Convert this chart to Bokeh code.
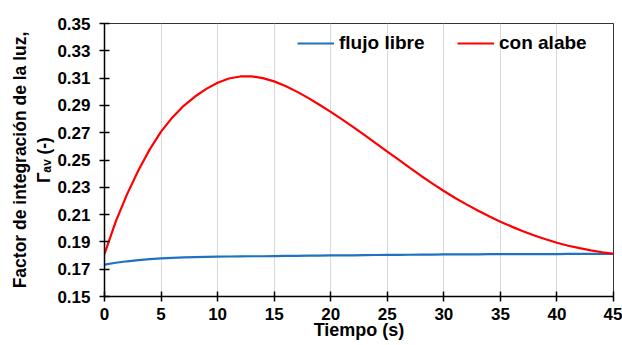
from bokeh.plotting import figure
from bokeh.models import (Range1d, FixedTicker, NumeralTickFormatter, Legend, LegendItem)
from bokeh.embed import file_html
from bokeh.resources import INLINE

# Data
tiempo = list(range(0, 46))
flujo_libre = [0.1734, 0.1747, 0.1758, 0.1767, 0.1774, 0.1779, 0.1783, 0.1786, 0.1788, 0.1790,
               0.1792, 0.1793, 0.1794, 0.1795, 0.1795, 0.1796, 0.1797, 0.1798, 0.1799, 0.1800,
               0.1801, 0.1802, 0.1802, 0.1803, 0.1804, 0.1805, 0.1805, 0.1806, 0.1807, 0.1807,
               0.1808, 0.1808, 0.1809, 0.1809, 0.1810, 0.1810, 0.1810, 0.1811, 0.1811, 0.1811,
               0.1811, 0.1812, 0.1812, 0.1812, 0.1812, 0.1812]
con_alabe = [0.1812, 0.2050, 0.2250, 0.2425, 0.2578, 0.2708, 0.2812, 0.2897, 0.2965, 0.3021,
             0.3066, 0.3097, 0.3112, 0.3113, 0.3100, 0.3076, 0.3042, 0.3001, 0.2955, 0.2905,
             0.2853, 0.2798, 0.2741, 0.2682, 0.2622, 0.2562, 0.2502, 0.2442, 0.2383, 0.2327,
             0.2273, 0.2222, 0.2175, 0.2130, 0.2088, 0.2048, 0.2012, 0.1978, 0.1947, 0.1919,
             0.1894, 0.1872, 0.1854, 0.1838, 0.1824, 0.1812]
x_ticks = [0, 5, 10, 15, 20, 25, 30, 35, 40, 45]
y_ticks = [0.15, 0.17, 0.19, 0.21, 0.23, 0.25, 0.27, 0.29, 0.31, 0.33, 0.35]
series_names = ["flujo libre", "con alabe"]
x_label = "Tiempo (s)"
y_label = "Factor de integración de la luz,\nΓₐᵥ (-)"

FONT = "Liberation Sans"

p = figure(width=622, height=345, output_backend="svg", toolbar_location=None,
           x_range=Range1d(0, 45), y_range=Range1d(0.15, 0.35),
           min_border_left=104, min_border_right=9, min_border_top=23, min_border_bottom=49)
p.background_fill_color = "white"
p.border_fill_color = "white"
p.outline_line_color = "#333333"
p.outline_line_width = 1

r1 = p.line(tiempo, flujo_libre, line_color="#1f72c0", line_width=2.2)
r2 = p.line(tiempo, con_alabe, line_color="#ff0000", line_width=2.2)

for ax in (p.xaxis[0], p.yaxis[0]):
    ax.axis_line_color = "black"
    ax.axis_line_width = 1.5
    ax.major_tick_line_color = "black"
    ax.major_tick_line_width = 1.5
    ax.major_tick_in = 5
    ax.major_tick_out = 5
    ax.minor_tick_line_color = None
    ax.major_label_text_font = FONT
    ax.major_label_text_font_style = "bold"
    ax.major_label_text_font_size = "17px"
    ax.major_label_text_color = "black"
    ax.axis_label_text_font = FONT
    ax.axis_label_text_font_style = "bold"
    ax.axis_label_text_font_size = "18px"
    ax.axis_label_text_color = "black"

p.xaxis.ticker = FixedTicker(ticks=x_ticks)
p.yaxis.ticker = FixedTicker(ticks=y_ticks)
p.yaxis.formatter = NumeralTickFormatter(format="0.00")
p.xaxis.major_label_standoff = 6
p.yaxis.major_label_standoff = 9
p.xaxis.axis_label = x_label
p.xaxis.axis_label_standoff = -3
p.yaxis.axis_label = y_label
p.yaxis.axis_label_standoff = 0
p.yaxis.axis_label_text_font_size = "17.5px"
p.yaxis.axis_label_text_line_height = 1.2

p.xgrid.ticker = FixedTicker(ticks=x_ticks)
p.xgrid.grid_line_color = "#d9d9d9"
p.xgrid.grid_line_width = 1
p.ygrid.grid_line_color = None

legend = Legend(items=[LegendItem(label=series_names[0], renderers=[r1]),
                       LegendItem(label=series_names[1], renderers=[r2])],
                orientation="horizontal", location=(193, 242),
                padding=0, margin=0, spacing=28, glyph_width=37, label_standoff=5,
                label_width=90, border_line_color=None, background_fill_alpha=0,
                label_text_font=FONT, label_text_font_style="bold",
                label_text_font_size="19px", label_text_color="black")
p.add_layout(legend)

open("out.html", "w").write(file_html(p, INLINE))
